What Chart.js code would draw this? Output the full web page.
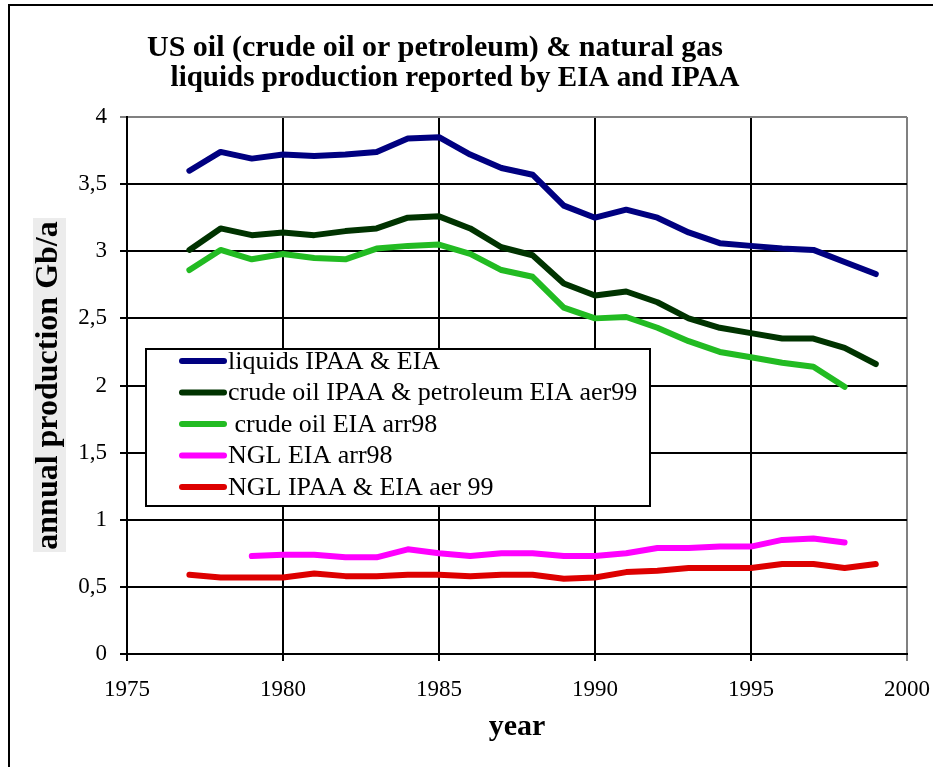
<!DOCTYPE html>
<html>
<head>
<meta charset="utf-8">
<title>US oil and NGL production</title>
<script src="https://cdn.jsdelivr.net/npm/chart.js@4.4.1/dist/chart.umd.min.js"></script>
<style>
  body { margin: 0; background: #fff; }
  canvas { display: block; }
</style>
</head>
<body>
<canvas id="myChart" width="933" height="767"></canvas>
<script>
// data (Gb/a)
const years = [1977, 1978, 1979, 1980, 1981, 1982, 1983, 1984, 1985, 1986, 1987, 1988,
               1989, 1990, 1991, 1992, 1993, 1994, 1995, 1996, 1997, 1998, 1999]
const liquids = [3.60, 3.74, 3.69, 3.72, 3.71, 3.72, 3.74, 3.84, 3.85, 3.72, 3.62, 3.57,
                 3.34, 3.25, 3.31, 3.25, 3.14, 3.06, 3.04, 3.02, 3.01, 2.92, 2.83]
const crudeAer99 = [3.01, 3.17, 3.12, 3.14, 3.12, 3.15, 3.17, 3.25, 3.26, 3.17, 3.03, 2.97,
                    2.76, 2.67, 2.70, 2.62, 2.50, 2.43, 2.39, 2.35, 2.35, 2.28, 2.16]
const crudeArr98 = [2.86, 3.01, 2.94, 2.98, 2.95, 2.94, 3.02, 3.04, 3.05, 2.98, 2.86, 2.81,
                    2.58, 2.50, 2.51, 2.43, 2.33, 2.25, 2.21, 2.17, 2.14, 1.99, null]
const nglArr98 = [null, null, 0.73, 0.74, 0.74, 0.72, 0.72, 0.78, 0.75, 0.73, 0.75, 0.75,
                  0.73, 0.73, 0.75, 0.79, 0.79, 0.80, 0.80, 0.85, 0.86, 0.83, null]
const nglAer99 = [0.59, 0.57, 0.57, 0.57, 0.60, 0.58, 0.58, 0.59, 0.59, 0.58, 0.59, 0.59,
                  0.56, 0.57, 0.61, 0.62, 0.64, 0.64, 0.64, 0.67, 0.67, 0.64, 0.67]

const seriesLabels = ["liquids IPAA & EIA", "crude oil IPAA & petroleum EIA aer99",
                      " crude oil EIA arr98", "NGL EIA arr98", "NGL IPAA & EIA aer 99"]
const seriesColors = ["#000080", "#003300", "#22bb22", "#ff00ff", "#dd0000"]
const titleLines = ["US oil (crude oil or petroleum) & natural gas",
                    "liquids production reported by EIA and IPAA"]

const SERIF = '"Liberation Serif", "Times New Roman", serif'

const toPoints = (vals) => years.map((yr, i) => ({x: yr, y: vals[i]}))

const makeSet = (i, vals) => ({
  label: seriesLabels[i],
  data: toPoints(vals),
  borderColor: seriesColors[i],
  backgroundColor: seriesColors[i],
  borderWidth: 6,
  borderCapStyle: 'round',
  borderJoinStyle: 'round',
  pointRadius: 0,
  tension: 0,
  fill: false,
  spanGaps: false
})

// outer frame, title and the grey box behind the y title
const frameAndTitle = {
  id: 'frameAndTitle',
  beforeDraw(chart) {
    const c = chart.ctx
    c.save()
    c.fillStyle = '#fff'
    c.fillRect(0, 0, chart.width, chart.height)
    c.strokeStyle = '#000'
    c.lineWidth = 2
    c.beginPath()
    c.moveTo(9, chart.height)
    c.lineTo(9, 5)
    c.lineTo(chart.width, 5)
    c.stroke()
    c.fillStyle = '#ececec'
    c.fillRect(33, 218, 33, 334)
    c.fillStyle = '#000'
    c.textAlign = 'center'
    c.textBaseline = 'alphabetic'
    c.font = 'bold 30px ' + SERIF
    c.fillText(titleLines[0], 435, 56)
    c.font = 'bold 29px ' + SERIF
    c.fillText(titleLines[1], 455, 86)
    c.restore()
  }
}

// boxed legend sitting inside the plot
const boxLegend = {
  id: 'boxLegend',
  afterDatasetsDraw(chart) {
    const c = chart.ctx
    const box = {x: 146, y: 349, w: 504, h: 157}
    c.save()
    c.fillStyle = '#fff'
    c.fillRect(box.x, box.y, box.w, box.h)
    c.strokeStyle = '#000'
    c.lineWidth = 2
    c.strokeRect(box.x, box.y, box.w, box.h)
    c.font = '26px ' + SERIF
    c.textBaseline = 'middle'
    c.textAlign = 'left'
    chart.data.datasets.forEach((ds, i) => {
      const y = box.y + 12 + i * 31.5
      c.strokeStyle = ds.borderColor
      c.lineWidth = 6
      c.lineCap = 'round'
      c.beginPath()
      c.moveTo(182, y)
      c.lineTo(224, y)
      c.stroke()
      c.fillStyle = '#000'
      c.fillText(ds.label, 228, y + 1)
    })
    c.restore()
  }
}

const gridColor = (edgeValue) => (ctx) => (ctx.tick && ctx.tick.value === edgeValue) ? '#808080' : '#000'

new Chart(document.getElementById("myChart"), {
  type: 'line',
  data: {
    datasets: [
      makeSet(0, liquids),
      makeSet(1, crudeAer99),
      makeSet(2, crudeArr98),
      makeSet(3, nglArr98),
      makeSet(4, nglAer99)
    ]
  },
  options: {
    responsive: false,
    animation: false,
    layout: {padding: {top: 117, right: 26, bottom: 0, left: 0}},
    plugins: {
      legend: {display: false},
      tooltip: {enabled: false}
    },
    scales: {
      x: {
        type: 'linear',
        min: 1975,
        max: 2000,
        ticks: {
          stepSize: 5,
          color: '#000',
          padding: 15,
          font: {family: SERIF, size: 23},
          callback: (v) => String(v)
        },
        grid: {color: gridColor(2000), lineWidth: 2, tickLength: 7},
        border: {color: '#000', width: 2},
        title: {
          display: true,
          text: 'year',
          color: '#000',
          font: {family: SERIF, size: 30, weight: 'bold'},
          padding: {top: 0, bottom: 22}
        },
        afterFit: (scale) => {
          scale.height = 113
          scale.paddingLeft = 0
          scale.paddingRight = 0
        }
      },
      y: {
        min: 0,
        max: 4,
        ticks: {
          stepSize: 0.5,
          color: '#000',
          padding: 13,
          font: {family: SERIF, size: 23},
          callback: (v) => String(v).replace('.', ',')
        },
        grid: {color: gridColor(4), lineWidth: 2, tickLength: 7},
        border: {color: '#000', width: 2},
        title: {
          display: true,
          text: 'annual production Gb/a',
          color: '#000',
          font: {family: SERIF, size: 32, weight: 'bold'},
          padding: {top: 30, bottom: 0}
        },
        afterFit: (scale) => {
          scale.width = 127
          scale.paddingTop = 0
          scale.paddingBottom = 0
        }
      }
    }
  },
  plugins: [frameAndTitle, boxLegend]
})
</script>
</body>
</html>
